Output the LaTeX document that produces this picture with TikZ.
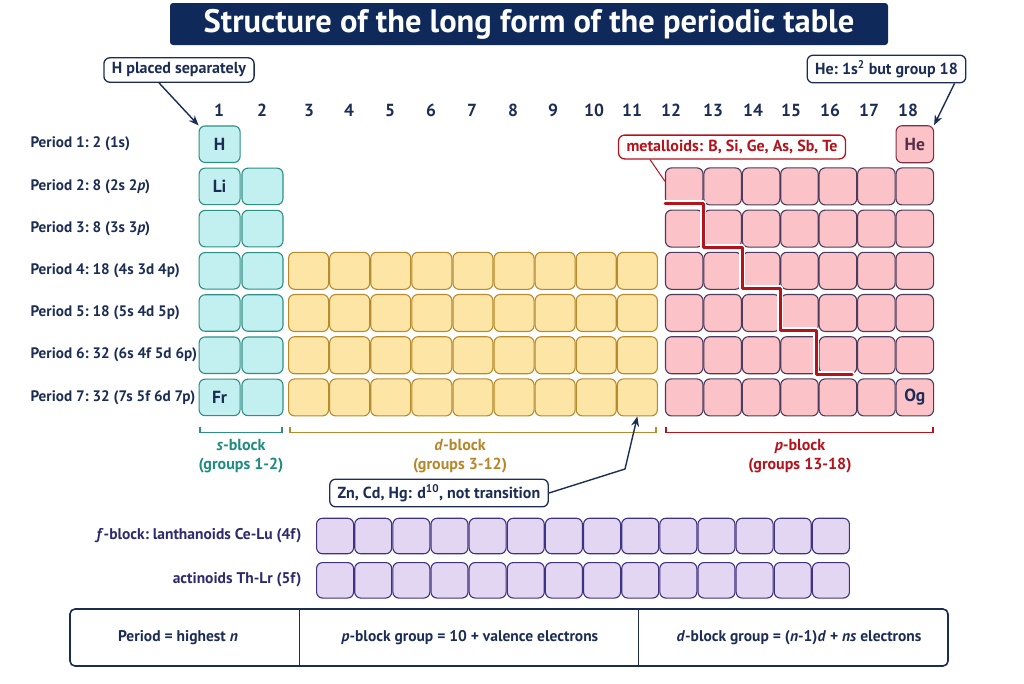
\documentclass[tikz,border=0pt]{standalone}
\usepackage{fontspec}
\setmainfont{PT Sans}
\usetikzlibrary{arrows.meta,calc}
\definecolor{navy}{HTML}{1C2D55}
\definecolor{titlebg}{HTML}{0F2A5A}
\definecolor{sF}{HTML}{C2EFEF}
\definecolor{sB}{HTML}{2E8F86}
\definecolor{dF}{HTML}{FDE5A6}
\definecolor{dB}{HTML}{B88A2E}
\definecolor{pF}{HTML}{FBC3C8}
\definecolor{pB}{HTML}{4B3B5E}
\definecolor{heB}{HTML}{7E2E40}
\definecolor{fF}{HTML}{E2D6F3}
\definecolor{fB}{HTML}{3D3380}
\definecolor{mred}{HTML}{B5121B}
\definecolor{tealtx}{HTML}{1F8C80}
\definecolor{ochre}{HTML}{B8862A}
\definecolor{ftx}{HTML}{2E2A70}
\tikzset{
  cellbase/.style={rounded corners=6pt, line width=1.1pt, inner sep=0pt},
  scell/.style={cellbase, draw=sB, fill=sF, minimum width=41pt, minimum height=36.5pt},
  dcell/.style={cellbase, draw=dB, fill=dF, minimum width=40pt, minimum height=37pt},
  pcell/.style={cellbase, draw=pB, fill=pF, minimum width=37.5pt, minimum height=37pt},
  fcell/.style={cellbase, draw=fB, fill=fF, minimum width=37pt, minimum height=35.5pt},
  elem/.style={text=navy, font=\fontsize{17.5}{20}\selectfont\bfseries},
  grp/.style={text=navy, font=\fontsize{17.5}{20}\selectfont\bfseries},
  plab/.style={anchor=west, text=navy, font=\fontsize{15.2}{18}\selectfont\bfseries},
  flab/.style={anchor=east, text=ftx, font=\fontsize{15.5}{18}\selectfont\bfseries},
  callout/.style={draw=navy, fill=white, rounded corners=6pt, line width=1.3pt, text=navy,
    font=\fontsize{16}{19}\selectfont\bfseries, inner xsep=8pt, inner ysep=5pt},
  arr/.style={draw=navy, line width=1.4pt, -{Stealth[length=10pt,width=8pt]}},
  blab/.style={font=\fontsize{16}{19}\selectfont\bfseries, align=center},
  btxt/.style={text=navy, font=\fontsize{15.5}{19}\selectfont\bfseries},
}
\begin{document}
\begin{tikzpicture}[x=1pt,y=-1pt]
\useasboundingbox (0,0) rectangle (1024,683);
% title
\node[fill=titlebg, minimum width=718pt, minimum height=42pt, rounded corners=3pt,
  text=white, font=\fontsize{32.5}{36}\selectfont\bfseries] (title) at (529,24)
  {Structure of the long form of the periodic table};
% group numbers
\foreach \g/\x in {1/219,2/262,3/309,4/349,5/390,6/431,7/472,8/513,9/553,10/594,11/632,12/671,13/713,14/753,15/791,16/830,17/869,18/908}
  \node[grp] (g\g) at (\x,110) {\g};
% period labels
\node[plab] (per1) at (27,144.2) {Period 1:\ 2 (1s)};
\node[plab] (per2) at (27,186.4) {Period 2:\ 8 (2s 2\textit{p})};
\node[plab] (per3) at (27,228.6) {Period 3:\ 8 (3s 3\textit{p})};
\node[plab] (per4) at (27,270.8) {Period 4:\ 18 (4s 3d 4p)};
\node[plab] (per5) at (27,313.0) {Period 5:\ 18 (5s 4d 5p)};
\node[plab] (per6) at (27,355.2) {Period 6:\ 32 (6s 4f 5d 6p)};
\node[plab] (per7) at (27,397.4) {Period 7:\ 32 (7s 5f 6d 7p)};
% s-block
\node[scell] (s1-1) at (219.6,144.2) {};
\foreach \r in {2,...,7}{
  \pgfmathsetmacro{\yy}{144.2+42.2*(\r-1)}
  \node[scell] (s1-\r) at (219.6,\yy) {};
  \node[scell] (s2-\r) at (262.5,\yy) {};
}
% d-block
\foreach \r in {4,...,7}{
  \foreach \i in {1,...,9}{
    \pgfmathsetmacro{\yy}{144.2+42.2*(\r-1)}
    \pgfmathsetmacro{\xx}{288+41.1*(\i-0.5)}
    \node[dcell] (d\i-\r) at (\xx,\yy) {};
  }
}
% p-block
\foreach \r in {2,...,7}{
  \foreach \j in {1,...,7}{
    \pgfmathsetmacro{\yy}{144.2+42.2*(\r-1)}
    \pgfmathsetmacro{\xx}{665+38.43*(\j-0.5)}
    \node[pcell] (p\j-\r) at (\xx,\yy) {};
  }
}
\node[pcell, draw=heB] (p7-1) at (914.8,144.2) {};
% element symbols
\node[elem] (eH) at (s1-1) {H};
\node[elem] (eLi) at (s1-2) {Li};
\node[elem] (eFr) at (s1-7) {Fr};
\node[elem, text=heB!60!navy] (eHe) at (p7-1) {He};
\node[elem] (eOg) at (p7-7) {Og};
% metalloid staircase
\foreach \w/\c in {5.5pt/white,3pt/mred}
  \draw[line width=\w, draw=\c, line cap=round, line join=round]
    (665,203) -- (703,203) -- (703,247) -- (742,247) -- (742,288) -- (780,288)
    -- (780,330) -- (816,330) -- (816,374) -- (852,374);
% metalloid label
\node[callout, draw=mred, text=mred] (metal) at (732,147) {metalloids: B, Si, Ge, As, Sb, Te};
\draw[mred, line width=1pt] ($(metal.south)+(-82,0)$) -- (p1-2.165);
% callouts top
\node[callout] (hcall) at (179,70) {H placed separately};
\draw[arr] ($(hcall.south)+(-20,0)$) -- (s1-1.north west);
\node[callout] (hecall) at (886.5,69) {He:\ 1s\textsuperscript{2} but group 18};
\draw[arr] ($(hecall.south)+(68,0)$) -- (p7-1.north east);
% block brackets
\draw[sB, line width=1.4pt] (200,427) -- (200,432.5) -- (282,432.5) -- (282,427);
\draw[dB, line width=1.4pt] (290,427) -- (290,432.5) -- (656,432.5) -- (656,427);
\draw[mred, line width=1.4pt] (666,427) -- (666,432.5) -- (933,432.5) -- (933,427);
\node[blab, text=tealtx] (sbl) at (241,456) {\textit{s}-block\\(groups 1-2)};
\node[blab, text=ochre] (dbl) at (460,456) {\textit{d}-block\\(groups 3-12)};
\node[blab, text=mred] (pbl) at (800,456) {\textit{p}-block\\(groups 13-18)};
% Zn callout
\node[callout] (zn) at (439,493) {Zn, Cd, Hg: d\textsuperscript{10}, not transition};
\coordinate (znbend) at (625,469);
\draw[arr] (zn.east) -- (znbend) -- (d9-7.south);
% f-block
\foreach \k in {1,...,14}{
  \pgfmathsetmacro{\xx}{316+38.14*(\k-0.5)}
  \node[fcell] (fa\k) at (\xx,536) {};
  \node[fcell] (fb\k) at (\xx,580.3) {};
}
\node[flab] (flan) at (305,536) {\textit{f}-block:\ lanthanoids Ce-Lu (4f)};
\node[flab] (fact) at (305,580) {actinoids Th-Lr (5f)};
% bottom box
\node[draw=navy, line width=1.6pt, rounded corners=5pt, minimum width=878pt, minimum height=57pt] (box) at (509,637.5) {};
\draw[navy, line width=1.4pt] ($(box.north west)+(230,0)$) -- ($(box.south west)+(230,0)$);
\draw[navy, line width=1.4pt] ($(box.north west)+(569,0)$) -- ($(box.south west)+(569,0)$);
\node[btxt] (b1) at (178,637.5) {Period = highest \textit{n}};
\node[btxt] (b2) at (470,637.5) {\textit{p}-block group = 10 + valence electrons};
\node[btxt] (b3) at (799,637.5) {\textit{d}-block group = (\textit{n}-1)\textit{d} + \textit{ns} electrons};
\end{tikzpicture}
\end{document}
